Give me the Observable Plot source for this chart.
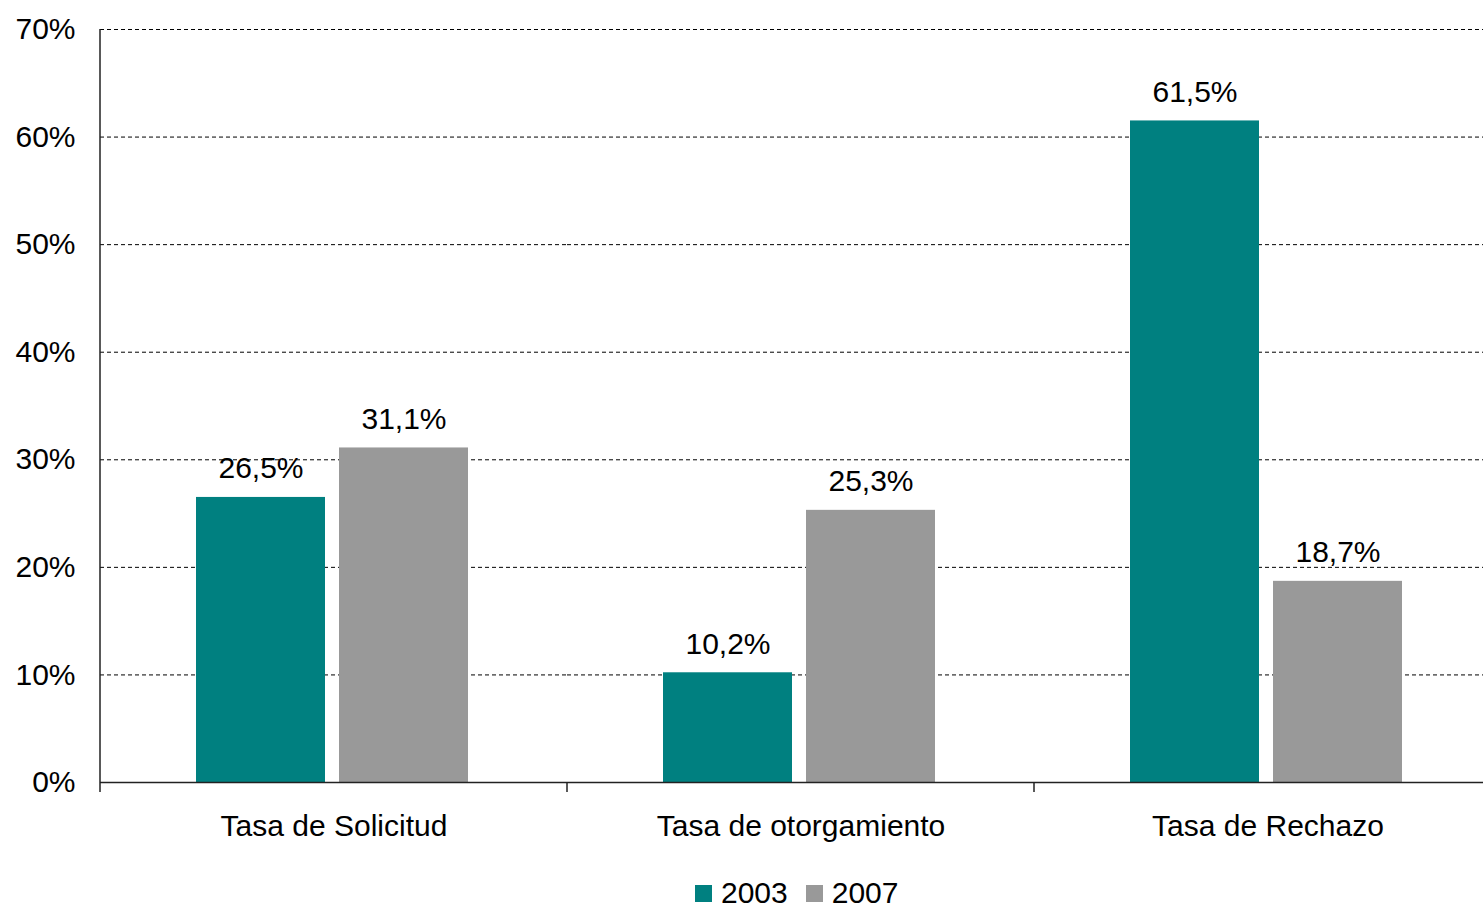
<!DOCTYPE html>
<html>
<head>
<meta charset="utf-8">
<script src="https://cdn.jsdelivr.net/npm/d3@7"></script>
<script src="https://cdn.jsdelivr.net/npm/@observablehq/plot@0.6"></script>
<style>
  html, body { margin: 0; padding: 0; background: #fff; overflow: hidden; }
  #chart { position: absolute; left: 0; top: 0; }
  #chart svg { max-width: none !important; }
  #legend { position: absolute; left: 695px; top: 876px; display: flex; align-items: center;
            font-family: "Liberation Sans", Arial, sans-serif; font-size: 30px; color: #000; }
  .sw { width: 17px; height: 17px; display: inline-block; margin-right: 9px; }
  .item { display: flex; align-items: center; margin-right: 18px; }
</style>
</head>
<body>
<div id="chart"></div>
<div id="legend"></div>
<script>
const categories = ["Tasa de Solicitud", "Tasa de otorgamiento", "Tasa de Rechazo"];
const years = ["2003", "2007"];
const values2003 = [26.5, 10.2, 61.5];
const values2007 = [31.1, 25.3, 18.7];
const colors = ["#008080", "#999999"];
const yTicks = [0, 10, 20, 30, 40, 50, 60, 70];

const data = [];
categories.forEach((c, i) => {
  data.push({cat: c, year: years[0], value: values2003[i]});
  data.push({cat: c, year: years[1], value: values2007[i]});
});

const fmt = v => v.toFixed(1).replace(".", ",") + "%";
const font = "'Liberation Sans', Arial, sans-serif";

const plot = Plot.plot({
  width: 1501,
  height: 855,
  marginLeft: 100,
  marginRight: 0,
  marginTop: 29,
  marginBottom: 73,
  style: {fontFamily: font, fontSize: "30px", color: "#000", background: "#fff", overflow: "visible", maxWidth: "none"},
  fx: {domain: categories, padding: 0, label: null},
  x: {domain: years, paddingInner: 14 / 143.5, paddingOuter: 0.68, align: 0.49, axis: null},
  y: {domain: [0, 70], label: null},
  color: {domain: years, range: colors},
  marks: [
    Plot.gridY(yTicks.slice(1), {stroke: "#000", strokeOpacity: 1, strokeDasharray: "4,3"}),
    Plot.barY(data, {fx: "cat", x: "year", y: "value", fill: "year"}),
    Plot.ruleY([0], {stroke: "#222", strokeWidth: 1.5}),
    Plot.text(data, {fx: "cat", x: "year", y: "value", text: d => fmt(d.value),
      lineAnchor: "bottom", dy: -19, fill: "#000", fontSize: 30}),
    Plot.axisY({ticks: yTicks, tickSize: 0, tickPadding: 25, tickFormat: d => d + "%",
      label: null, fontSize: 30}),
    Plot.axisFx({anchor: "bottom", tickSize: 0, tickPadding: 32, label: null, fontSize: 30})
  ]
});

document.getElementById("chart").appendChild(plot);

// axis line on the left and group-boundary tick marks, positioned through Plot's scales
const svg = d3.select(plot);
const fx = plot.scale("fx");
const y = plot.scale("y");
const y0 = y.apply(0), yTop = y.apply(70);
const edges = categories.map(c => fx.apply(c));
svg.append("line")
  .attr("x1", edges[0]).attr("x2", edges[0])
  .attr("y1", yTop).attr("y2", y0 + 10)
  .attr("stroke", "#222").attr("stroke-width", 1.5);
edges.slice(1).forEach(xe => {
  svg.append("line")
    .attr("x1", xe).attr("x2", xe)
    .attr("y1", y0).attr("y2", y0 + 10)
    .attr("stroke", "#222").attr("stroke-width", 1.5);
});

const legend = document.getElementById("legend");
years.forEach((yr, i) => {
  const item = document.createElement("div");
  item.className = "item";
  item.innerHTML = `<span class="sw" style="background:${colors[i]}"></span><span>${yr}</span>`;
  legend.appendChild(item);
});
</script>
</body>
</html>
